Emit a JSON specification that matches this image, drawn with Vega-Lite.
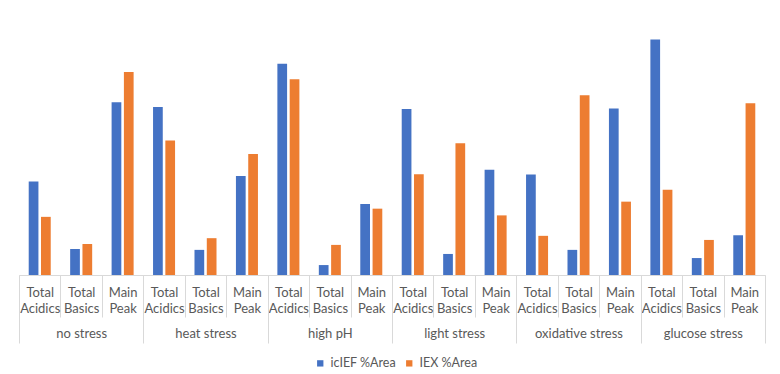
{
  "$schema": "https://vega.github.io/schema/vega-lite/v6.json",
  "width": 746,
  "height": 263,
  "padding": {"left": 18, "top": 12, "right": 16, "bottom": 0},
  "data": {"values": [
    {"group": "no stress", "cat": "Total Acidics", "key": "no stress|Total Acidics", "series": "icIEF %Area", "value": 32.0},
    {"group": "no stress", "cat": "Total Acidics", "key": "no stress|Total Acidics", "series": "IEX %Area", "value": 19.9},
    {"group": "no stress", "cat": "Total Basics", "key": "no stress|Total Basics", "series": "icIEF %Area", "value": 8.9},
    {"group": "no stress", "cat": "Total Basics", "key": "no stress|Total Basics", "series": "IEX %Area", "value": 10.6},
    {"group": "no stress", "cat": "Main Peak", "key": "no stress|Main Peak", "series": "icIEF %Area", "value": 59.1},
    {"group": "no stress", "cat": "Main Peak", "key": "no stress|Main Peak", "series": "IEX %Area", "value": 69.5},
    {"group": "heat stress", "cat": "Total Acidics", "key": "heat stress|Total Acidics", "series": "icIEF %Area", "value": 57.5},
    {"group": "heat stress", "cat": "Total Acidics", "key": "heat stress|Total Acidics", "series": "IEX %Area", "value": 46.0},
    {"group": "heat stress", "cat": "Total Basics", "key": "heat stress|Total Basics", "series": "icIEF %Area", "value": 8.6},
    {"group": "heat stress", "cat": "Total Basics", "key": "heat stress|Total Basics", "series": "IEX %Area", "value": 12.6},
    {"group": "heat stress", "cat": "Main Peak", "key": "heat stress|Main Peak", "series": "icIEF %Area", "value": 33.9},
    {"group": "heat stress", "cat": "Main Peak", "key": "heat stress|Main Peak", "series": "IEX %Area", "value": 41.4},
    {"group": "high pH", "cat": "Total Acidics", "key": "high pH|Total Acidics", "series": "icIEF %Area", "value": 72.3},
    {"group": "high pH", "cat": "Total Acidics", "key": "high pH|Total Acidics", "series": "IEX %Area", "value": 67.0},
    {"group": "high pH", "cat": "Total Basics", "key": "high pH|Total Basics", "series": "icIEF %Area", "value": 3.4},
    {"group": "high pH", "cat": "Total Basics", "key": "high pH|Total Basics", "series": "IEX %Area", "value": 10.3},
    {"group": "high pH", "cat": "Main Peak", "key": "high pH|Main Peak", "series": "icIEF %Area", "value": 24.3},
    {"group": "high pH", "cat": "Main Peak", "key": "high pH|Main Peak", "series": "IEX %Area", "value": 22.7},
    {"group": "light stress", "cat": "Total Acidics", "key": "light stress|Total Acidics", "series": "icIEF %Area", "value": 56.8},
    {"group": "light stress", "cat": "Total Acidics", "key": "light stress|Total Acidics", "series": "IEX %Area", "value": 34.5},
    {"group": "light stress", "cat": "Total Basics", "key": "light stress|Total Basics", "series": "icIEF %Area", "value": 7.2},
    {"group": "light stress", "cat": "Total Basics", "key": "light stress|Total Basics", "series": "IEX %Area", "value": 45.1},
    {"group": "light stress", "cat": "Main Peak", "key": "light stress|Main Peak", "series": "icIEF %Area", "value": 36.0},
    {"group": "light stress", "cat": "Main Peak", "key": "light stress|Main Peak", "series": "IEX %Area", "value": 20.4},
    {"group": "oxidative stress", "cat": "Total Acidics", "key": "oxidative stress|Total Acidics", "series": "icIEF %Area", "value": 34.4},
    {"group": "oxidative stress", "cat": "Total Acidics", "key": "oxidative stress|Total Acidics", "series": "IEX %Area", "value": 13.4},
    {"group": "oxidative stress", "cat": "Total Basics", "key": "oxidative stress|Total Basics", "series": "icIEF %Area", "value": 8.6},
    {"group": "oxidative stress", "cat": "Total Basics", "key": "oxidative stress|Total Basics", "series": "IEX %Area", "value": 61.5},
    {"group": "oxidative stress", "cat": "Main Peak", "key": "oxidative stress|Main Peak", "series": "icIEF %Area", "value": 57.0},
    {"group": "oxidative stress", "cat": "Main Peak", "key": "oxidative stress|Main Peak", "series": "IEX %Area", "value": 25.1},
    {"group": "glucose stress", "cat": "Total Acidics", "key": "glucose stress|Total Acidics", "series": "icIEF %Area", "value": 80.6},
    {"group": "glucose stress", "cat": "Total Acidics", "key": "glucose stress|Total Acidics", "series": "IEX %Area", "value": 29.2},
    {"group": "glucose stress", "cat": "Total Basics", "key": "glucose stress|Total Basics", "series": "icIEF %Area", "value": 5.8},
    {"group": "glucose stress", "cat": "Total Basics", "key": "glucose stress|Total Basics", "series": "IEX %Area", "value": 12.0},
    {"group": "glucose stress", "cat": "Main Peak", "key": "glucose stress|Main Peak", "series": "icIEF %Area", "value": 13.6},
    {"group": "glucose stress", "cat": "Main Peak", "key": "glucose stress|Main Peak", "series": "IEX %Area", "value": 58.8}
  ]},
  "layer": [
    {
      "mark": {"type": "bar"},
      "encoding": {
        "x": {
          "field": "key", "type": "nominal", "sort": null,
          "scale": {"paddingInner": 0, "paddingOuter": 0},
          "axis": {
            "orient": "bottom", "title": null, "labelAngle": 0,
            "tickBand": "extent", "tickSize": 42, "tickColor": "#d9d9d9",
            "domainColor": "#d9d9d9",
            "labelExpr": "indexof(datum.label + '', '|') >= 0 ? split(split(datum.label, '|')[1], ' ') : ''",
            "labelFont": "Lato", "labelFontSize": 13, "labelColor": "#595959",
            "labelBaseline": "top", "labelPadding": -31, "labelLineHeight": 16
          }
        },
        "xOffset": {
          "field": "series", "type": "nominal",
          "sort": ["icIEF %Area", "IEX %Area"],
          "scale": {"paddingInner": 0.21, "paddingOuter": 0.79}
        },
        "y": {
          "field": "value", "type": "quantitative",
          "scale": {"domain": [0, 90]}, "axis": null
        },
        "color": {
          "field": "series", "type": "nominal",
          "scale": {"domain": ["icIEF %Area", "IEX %Area"], "range": ["#4472C4", "#ED7D31"]},
          "legend": {
            "orient": "none", "legendX": 295, "legendY": 345,
            "direction": "horizontal", "title": null, "padding": 0,
            "symbolType": "square", "symbolSize": 40, "symbolStrokeWidth": 0,
            "labelOffset": 4,
            "labelFont": "Lato", "labelFontSize": 12.5, "labelColor": "#595959",
            "columnPadding": 7
          }
        }
      }
    },
    {
      "mark": {"type": "tick", "opacity": 0},
      "encoding": {
        "x": {
          "field": "group", "type": "nominal", "sort": null,
          "scale": {"paddingInner": 0, "paddingOuter": 0},
          "axis": {
            "orient": "bottom", "title": null, "labelAngle": 0,
            "tickBand": "extent", "tickSize": 68, "tickColor": "#d9d9d9",
            "domain": false,
            "labelFont": "Lato", "labelFontSize": 13, "labelColor": "#595959",
            "labelBaseline": "top", "labelPadding": -16
          }
        }
      }
    }
  ],
  "resolve": {"scale": {"x": "independent"}},
  "config": {"view": {"stroke": null}}
}
